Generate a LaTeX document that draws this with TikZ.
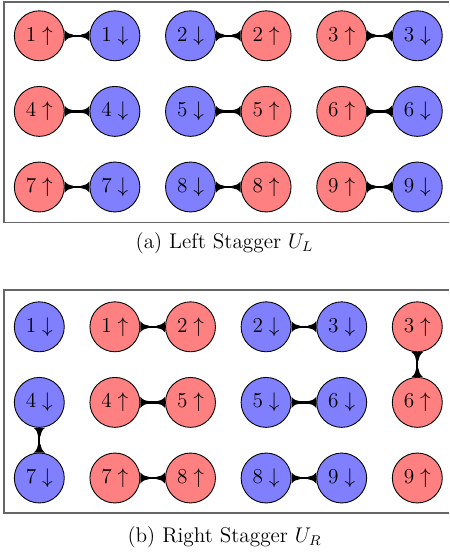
\documentclass[tikz,border=0pt,12pt]{standalone}
\usetikzlibrary{arrows.meta}

% A filled tip with concave sides that flares out towards the path end
\pgfdeclarearrow{
  name = Flare,
  parameters = {\the\pgfarrowlength,\the\pgfarrowwidth},
  setup code = {
    \pgfarrowssettipend{\pgfarrowlength}
    \pgfarrowssetlineend{.5\pgfarrowlength}
    \pgfarrowssetbackend{0pt}
    \pgfarrowshullpoint{\pgfarrowlength}{.5\pgfarrowwidth}
    \pgfarrowshullpoint{\pgfarrowlength}{-.5\pgfarrowwidth}
    \pgfarrowshullpoint{0pt}{0pt}
    \pgfarrowssavethe\pgfarrowlength
    \pgfarrowssavethe\pgfarrowwidth
  },
  drawing code = {
    \pgfpathmoveto{\pgfqpoint{0pt}{0.65pt}}
    \pgfpathcurveto{\pgfqpoint{.35\pgfarrowlength}{0.65pt}}{\pgfqpoint{.75\pgfarrowlength}{.25\pgfarrowwidth}}{\pgfqpoint{\pgfarrowlength}{.5\pgfarrowwidth}}
    \pgfpathlineto{\pgfqpoint{\pgfarrowlength}{-.5\pgfarrowwidth}}
    \pgfpathcurveto{\pgfqpoint{.75\pgfarrowlength}{-.25\pgfarrowwidth}}{\pgfqpoint{.35\pgfarrowlength}{-0.65pt}}{\pgfqpoint{0pt}{-0.65pt}}
    \pgfpathclose
    \pgfusepathqfill
  },
  defaults = {length = 4.8pt, width = 6.4pt}
}

\begin{document}
\begin{tikzpicture}[x=0.5646pt, y=-0.5646pt,
  site/.style={circle, draw=black, line width=0.5pt, minimum size=28.2pt, inner sep=0pt},
  up/.style={site, fill=red!50},
  dn/.style={site, fill=blue!50},
  bond/.style={line width=1.3pt, {Flare[]}-{Flare[]}},
  frame/.style={draw=black!60, line width=0.7pt}]
\useasboundingbox (0,0) rectangle (449,554);

% panel (a): left stagger
\draw[frame] (449,2) -- (4,2) -- (4,222.5) -- (449,222.5);
\foreach \r/\y in {0/35.8, 1/111.4, 2/187.0} {
  \pgfmathtruncatemacro{\ka}{3*\r+1}
  \pgfmathtruncatemacro{\kb}{3*\r+2}
  \pgfmathtruncatemacro{\kc}{3*\r+3}
  \node[up] (a\ka u) at (39.3,\y)  {$\ka\uparrow$};
  \node[dn] (a\ka d) at (114.9,\y) {$\ka\downarrow$};
  \node[dn] (a\kb d) at (190.5,\y) {$\kb\downarrow$};
  \node[up] (a\kb u) at (266.1,\y) {$\kb\uparrow$};
  \node[up] (a\kc u) at (341.7,\y) {$\kc\uparrow$};
  \node[dn] (a\kc d) at (417.3,\y) {$\kc\downarrow$};
  \draw[bond] (a\ka u) -- (a\ka d);
  \draw[bond] (a\kb d) -- (a\kb u);
  \draw[bond] (a\kc u) -- (a\kc d);
}
\node (capa) at (224.5,243) {(a) Left Stagger $U_L$};

% panel (b): right stagger
\draw[frame] (449,290) -- (4,290) -- (4,513) -- (449,513);
\foreach \r/\y in {0/326.8, 1/402.4, 2/478.0} {
  \pgfmathtruncatemacro{\ka}{3*\r+1}
  \pgfmathtruncatemacro{\kb}{3*\r+2}
  \pgfmathtruncatemacro{\kc}{3*\r+3}
  \node[dn] (b\ka d) at (39.3,\y)  {$\ka\downarrow$};
  \node[up] (b\ka u) at (114.9,\y) {$\ka\uparrow$};
  \node[up] (b\kb u) at (190.5,\y) {$\kb\uparrow$};
  \node[dn] (b\kb d) at (266.1,\y) {$\kb\downarrow$};
  \node[dn] (b\kc d) at (341.7,\y) {$\kc\downarrow$};
  \node[up] (b\kc u) at (417.3,\y) {$\kc\uparrow$};
  \draw[bond] (b\ka u) -- (b\kb u);
  \draw[bond] (b\kb d) -- (b\kc d);
}
\draw[bond] (b3u) -- (b6u);
\draw[bond] (b4d) -- (b7d);
\node (capb) at (224.5,537) {(b) Right Stagger $U_R$};
\end{tikzpicture}
\end{document}
